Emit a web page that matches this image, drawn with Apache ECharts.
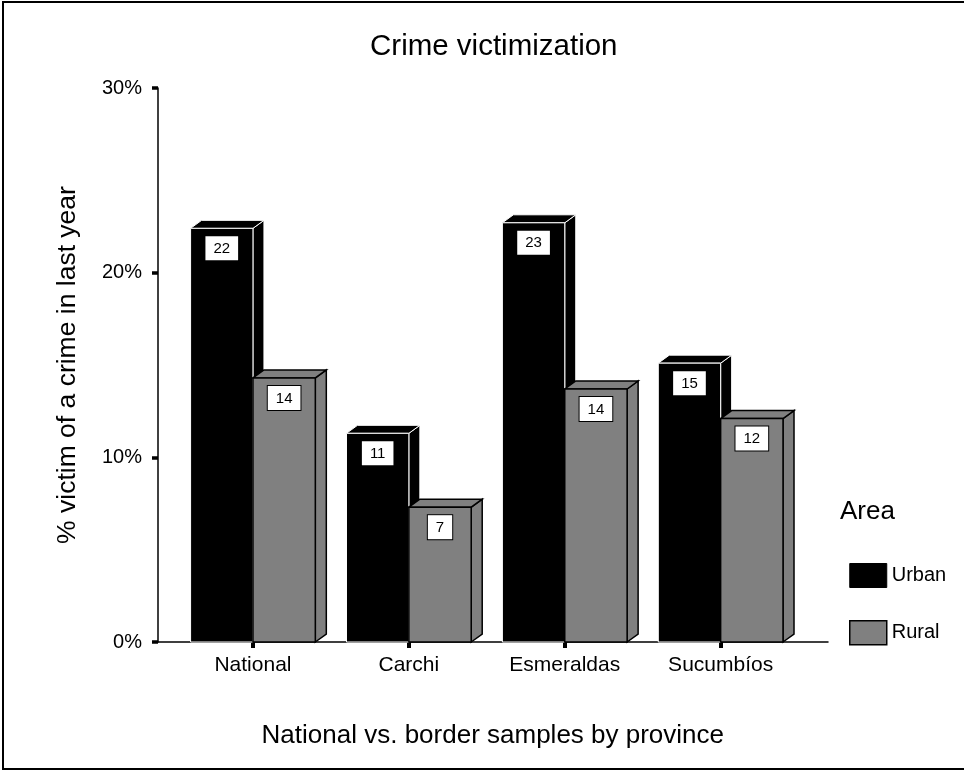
<!DOCTYPE html>
<html>
<head>
<meta charset="utf-8">
<script src="https://cdn.jsdelivr.net/npm/echarts@6/dist/echarts.min.js"></script>
<style>
html,body{margin:0;padding:0;background:#fff;}
#chart{width:964px;height:771px;}
</style>
</head>
<body>
<div id="chart"></div>
<script>
const categories = ['National', 'Carchi', 'Esmeraldas', 'Sucumbíos'];
const urbanValues = [22.4, 11.3, 22.7, 15.1];
const ruralValues = [14.3, 7.3, 13.7, 12.1];
const seriesNames = ['Urban', 'Rural'];
const yMin = 0, yMax = 30, yInterval = 10;

const FONT = "'Liberation Sans', Arial, sans-serif";
const DX = 11, DY = -8;

function makeRender(side, fill, stroke, strokeW) {
  return function (params, api) {
    const cat = api.value(0), val = api.value(1);
    const base = api.coord([cat, 0]);
    const top = api.coord([cat, val]);
    const bw = api.size([1, 0])[0] * 0.4;
    const x0 = side === 0 ? base[0] - bw : base[0];
    const x1 = x0 + bw;
    const yT = top[1], yB = base[1];
    const st = { fill: fill, stroke: stroke, lineWidth: strokeW };
    return {
      type: 'group',
      children: [
        { type: 'polygon', shape: { points: [[x1, yB], [x1 + DX, yB + DY], [x1 + DX, yT + DY], [x1, yT]] }, style: st },
        { type: 'polygon', shape: { points: [[x0, yT], [x0 + DX, yT + DY], [x1 + DX, yT + DY], [x1, yT]] }, style: st },
        { type: 'rect', shape: { x: x0, y: yT, width: bw, height: yB - yT }, style: st },
        { type: 'text', style: {
            text: String(Math.round(val)), x: (x0 + x1) / 2, y: yT + 8,
            align: 'center', verticalAlign: 'top',
            fontSize: 15, fontFamily: FONT, fill: '#000',
            backgroundColor: '#fff', borderColor: '#000', borderWidth: 1,
            padding: [5, 8, 4, 8]
          } }
      ]
    };
  };
}

const chart = echarts.init(document.getElementById('chart'), null, { renderer: 'canvas' });
chart.setOption({
  backgroundColor: '#fff',
  animation: false,
  textStyle: { fontFamily: FONT, color: '#000' },
  title: [
    { text: 'Crime victimization', left: 365, top: 27,
      textStyle: { fontSize: 29.5, fontWeight: 'normal', color: '#000', fontFamily: FONT } },
    { text: 'Area', left: 835, top: 494,
      textStyle: { fontSize: 26, fontWeight: 'normal', color: '#000', fontFamily: FONT } }
  ],
  legend: {
    orient: 'vertical', left: 844, top: 558, itemGap: 32,
    itemWidth: 37, itemHeight: 24, icon: 'rect', selectedMode: false,
    textStyle: { fontSize: 20, color: '#000', fontFamily: FONT },
    data: [
      { name: 'Urban', itemStyle: { color: '#000', borderColor: '#000', borderWidth: 1 } },
      { name: 'Rural', itemStyle: { color: '#808080', borderColor: '#000', borderWidth: 1.5 } }
    ]
  },
  graphic: [
    { type: 'rect', shape: { x: 3, y: 2, width: 980, height: 767 }, style: { fill: 'none', stroke: '#000', lineWidth: 2 }, silent: true }
  ],
  grid: [
    { left: 158, top: 88, width: 670, height: 554 },
    { left: 175, top: 88, width: 623.6, height: 554 }
  ],
  xAxis: [
    { type: 'value', gridIndex: 0, min: 0, max: 1,
      axisLine: { show: true, onZero: false, lineStyle: { color: '#000', width: 1.5 } },
      axisTick: { show: false }, axisLabel: { show: false }, splitLine: { show: false } },
    { type: 'category', gridIndex: 1, data: categories,
      name: 'National vs. border samples by province', nameLocation: 'middle', nameGap: 81,
      nameTextStyle: { fontSize: 26, color: '#000', fontFamily: FONT, padding: [0, 0, 0, 12] },
      axisLine: { show: false },
      axisTick: { show: true, alignWithLabel: true, length: 6, lineStyle: { color: '#000', width: 4 } },
      axisLabel: { fontSize: 21, color: '#000', margin: 13, fontFamily: FONT },
      splitLine: { show: false } }
  ],
  yAxis: [
    { type: 'value', gridIndex: 0, min: yMin, max: yMax, interval: yInterval,
      name: '% victim of a crime in last year', nameLocation: 'middle', nameGap: 77,
      nameTextStyle: { fontSize: 26.5, color: '#000', fontFamily: FONT },
      axisLine: { show: true, lineStyle: { color: '#000', width: 1.5 } },
      axisTick: { show: true, length: 6, lineStyle: { color: '#000', width: 3.5 } },
      axisLabel: { fontSize: 20, color: '#000', margin: 16, fontFamily: FONT, formatter: '{value}%' },
      splitLine: { show: false } },
    { type: 'value', gridIndex: 1, min: yMin, max: yMax, interval: yInterval, show: false,
      splitLine: { show: false } }
  ],
  series: [
    { name: seriesNames[0], type: 'custom', xAxisIndex: 1, yAxisIndex: 1,
      itemStyle: { color: '#000' },
      renderItem: makeRender(0, '#000', '#fff', 1),
      encode: { x: 0, y: 1 },
      data: urbanValues.map((v, i) => [i, v]) },
    { name: seriesNames[1], type: 'custom', xAxisIndex: 1, yAxisIndex: 1,
      itemStyle: { color: '#808080' },
      renderItem: makeRender(1, '#808080', '#000', 1.5),
      encode: { x: 0, y: 1 },
      data: ruralValues.map((v, i) => [i, v]) }
  ]
});
</script>
</body>
</html>
